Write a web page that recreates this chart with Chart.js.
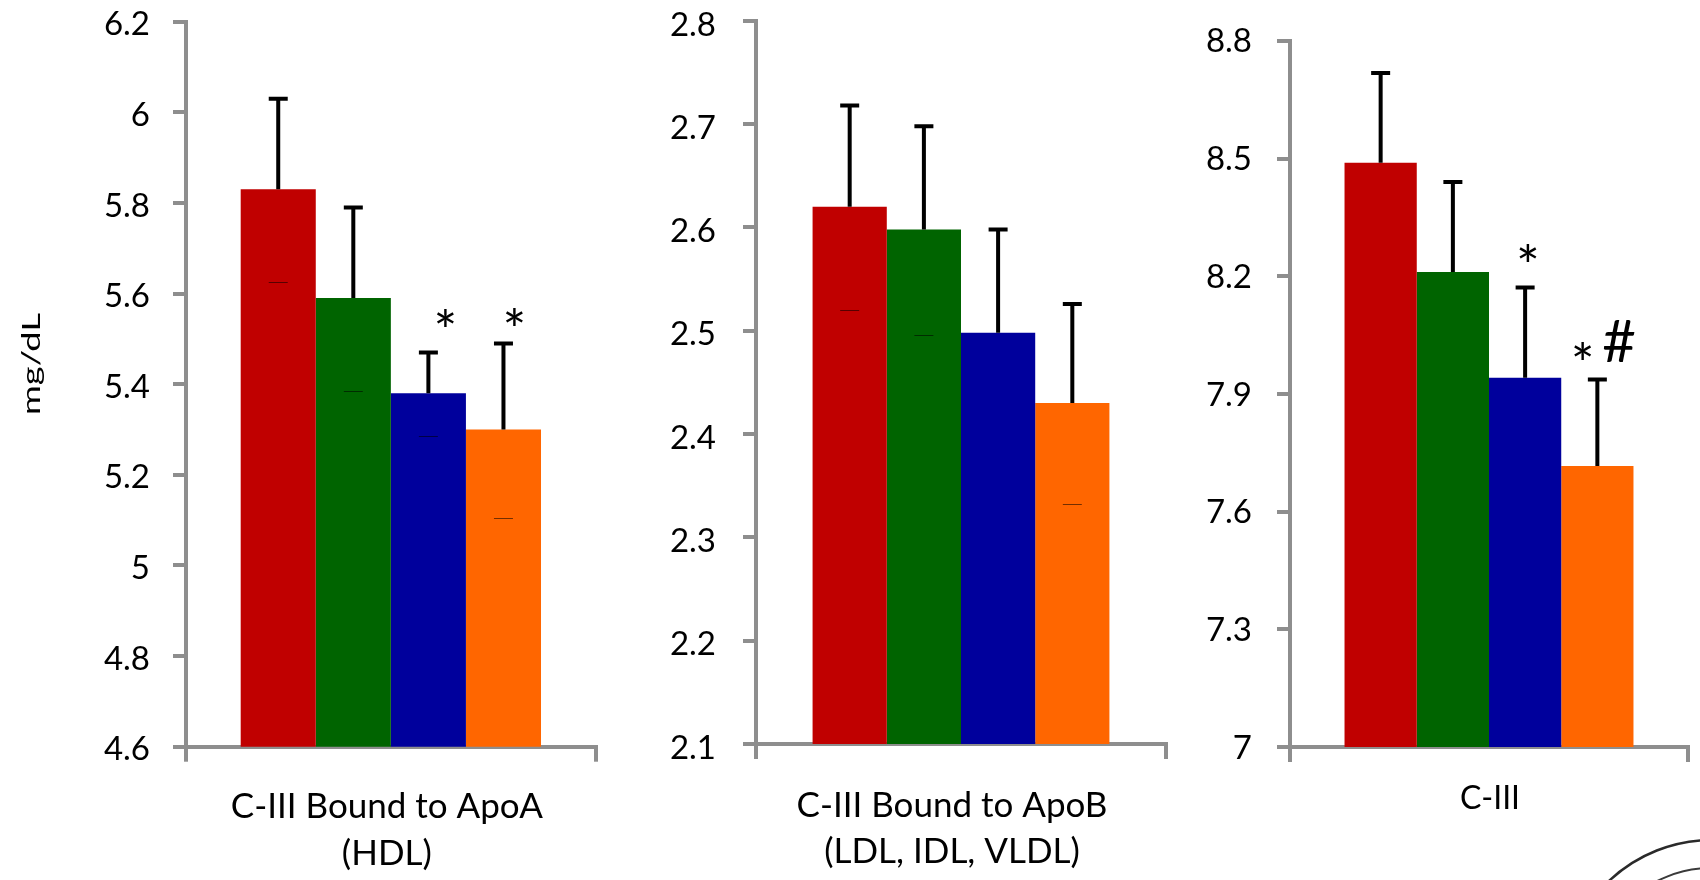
<!DOCTYPE html>
<html><head><meta charset="utf-8">
<script src="https://cdn.jsdelivr.net/npm/chart.js@4.4.1/dist/chart.umd.min.js"></script>
<style>
html,body{margin:0;padding:0;background:#fff;}
#wrap{position:relative;width:1700px;height:880px;overflow:hidden;background:#fff;}
canvas{position:absolute;left:0;top:0;}
</style></head><body>
<div id="wrap">
<canvas id="c1" width="1700" height="880"></canvas>
<canvas id="c2" width="1700" height="880"></canvas>
<canvas id="c3" width="1700" height="880"></canvas>
</div>
<script>
// ---------------- data ----------------
const seriesNames = ['Group 1', 'Group 2', 'Group 3', 'Group 4'];
const seriesColors = ['#C00000', '#006400', '#00009C', '#FF6600'];

const hdlCategory = ['C-III Bound to ApoA', '(HDL)'];
const hdlMeans = [5.83, 5.59, 5.38, 5.30];
const hdlErrors = [0.20, 0.20, 0.09, 0.19];
const hdlMarks = ['', '', '*', '*'];
const hdlTicks = ['4.6', '4.8', '5', '5.2', '5.4', '5.6', '5.8', '6', '6.2'];

const apoBCategory = ['C-III Bound to ApoB', '(LDL, IDL, VLDL)'];
const apoBMeans = [2.62, 2.598, 2.498, 2.43];
const apoBErrors = [0.098, 0.10, 0.10, 0.096];
const apoBMarks = ['', '', '', ''];
const apoBTicks = ['2.1', '2.2', '2.3', '2.4', '2.5', '2.6', '2.7', '2.8'];

const totalCategory = ['C-III'];
const totalMeans = [8.489, 8.211, 7.941, 7.716];
const totalErrors = [0.229, 0.229, 0.23, 0.221];
const totalMarks = ['', '', '*', '* #'];
const totalTicks = ['7', '7.3', '7.6', '7.9', '8.2', '8.5', '8.8'];

const yTitle = 'mg/dL';

// ---------------- styles / layout ----------------
const FONT = 'Lato, "Open Sans", sans-serif';
const AXIS_GRAY = '#8E8E8E';
const W = 1700, H = 880;

const decorPlugin = {
  id: 'decor',
  afterDatasetsDraw(chart, args, opts) {
    const ctx = chart.ctx;
    const y = chart.scales.y;
    ctx.save();
    opts.means.forEach((m, i) => {
      const bar = chart.getDatasetMeta(i).data[0];
      const x = bar.x;
      const yTop = y.getPixelForValue(m + opts.errors[i]);
      const yLow = y.getPixelForValue(m - opts.errors[i]);
      ctx.strokeStyle = '#000';
      ctx.lineWidth = 4;
      ctx.lineCap = 'butt';
      ctx.beginPath();
      ctx.moveTo(x, bar.y);
      ctx.lineTo(x, yTop);
      ctx.moveTo(x - 9.5, yTop);
      ctx.lineTo(x + 9.5, yTop);
      ctx.stroke();
      // faint lower cap showing through the bar
      if (opts.lowerCaps[i]) {
        ctx.strokeStyle = 'rgba(0,0,0,0.55)';
        ctx.lineWidth = 1;
        ctx.beginPath();
        ctx.moveTo(x - 9.5, Math.round(yLow) + 2.5);
        ctx.lineTo(x + 9.5, Math.round(yLow) + 2.5);
        ctx.stroke();
      }
      // significance marks
      const tokens = (opts.marks[i] || '').split(' ').filter(t => t);
      tokens.forEach((t, k) => {
        const off = (opts.markOffsets[i] || [])[k] || [0, -30];
        const size = opts.markSizes[t] || 40;
        ctx.font = size + 'px ' + FONT;
        ctx.fillStyle = '#000';
        ctx.textAlign = 'left';
        ctx.textBaseline = 'alphabetic';
        const mt = ctx.measureText(t);
        const cx = x + off[0], cy = yTop + off[1];
        const x0 = cx - (mt.actualBoundingBoxRight - mt.actualBoundingBoxLeft) / 2;
        const y0 = cy + (mt.actualBoundingBoxAscent - mt.actualBoundingBoxDescent) / 2;
        ctx.fillText(t, x0, y0);
      });
    });
    ctx.restore();
  },
  afterDraw(chart, args, opts) {
    const ctx = chart.ctx;
    const xs = chart.scales.x;
    const cx = xs.getPixelForTick(0) + opts.labelDx;
    ctx.save();
    ctx.fillStyle = '#000';
    ctx.font = opts.labelSize + 'px ' + FONT;
    ctx.textAlign = 'center';
    ctx.textBaseline = 'alphabetic';
    opts.category.forEach((line, k) => {
      ctx.fillText(line, cx, chart.chartArea.bottom + opts.labelDy + k * opts.lineGap);
    });
    if (opts.yTitle) {
      ctx.translate(40, 364);
      ctx.rotate(-Math.PI / 2);
      ctx.font = '25px ' + FONT;
      const w = ctx.measureText(opts.yTitle).width;
      ctx.scale(102 / w, 1);
      ctx.fillText(opts.yTitle, 0, 0);
    }
    ctx.restore();
    if (opts.logo) {
      ctx.save();
      ctx.strokeStyle = '#2a2a2a';
      ctx.lineWidth = 2.5;
      ctx.beginPath();
      ctx.arc(1712, 990, 150, Math.PI, 1.6 * Math.PI);
      ctx.stroke();
      ctx.strokeStyle = '#3a3a3a';
      ctx.lineWidth = 2;
      ctx.beginPath();
      ctx.arc(1712, 990, 122, Math.PI, 1.6 * Math.PI);
      ctx.stroke();
      ctx.restore();
    }
  }
};

function makePanel(id, p) {
  const tickValues = p.ticks.map(Number);
  return new Chart(document.getElementById(id), {
    type: 'bar',
    data: {
      labels: [p.category.join(' ')],
      datasets: seriesNames.map((n, i) => ({
        label: n,
        data: [p.means[i]],
        backgroundColor: seriesColors[i],
        borderWidth: 0,
        barPercentage: 1,
        categoryPercentage: p.catPct
      }))
    },
    options: {
      responsive: false,
      animation: false,
      devicePixelRatio: 1,
      layout: { padding: { left: 0, top: p.top, right: W - p.xEnd, bottom: 0 } },
      plugins: {
        legend: { display: false },
        tooltip: { enabled: false },
        decor: {
          means: p.means, errors: p.errors, marks: p.marks,
          markOffsets: p.markOffsets, markSizes: { '*': 56, '#': 58 },
          lowerCaps: p.lowerCaps,
          category: p.category, labelDx: p.labelDx, labelDy: p.labelDy,
          lineGap: p.lineGap, labelSize: p.labelSize,
          yTitle: p.yTitle, logo: p.logo
        }
      },
      scales: {
        x: {
          z: 1,
          offset: true,
          ticks: { display: false },
          grid: { display: true, offset: true, drawOnChartArea: false, drawTicks: true,
                  tickLength: 15, color: AXIS_GRAY, lineWidth: 4, tickWidth: 4 },
          border: { display: true, color: AXIS_GRAY, width: 4 },
          afterFit: s => { s.height = H - p.bottom; s.paddingLeft = 0; s.paddingRight = 0; }
        },
        y: {
          min: tickValues[0],
          max: tickValues[tickValues.length - 1],
          afterBuildTicks: s => { s.ticks = tickValues.map(v => ({ value: v })); },
          ticks: {
            callback: (v, i) => p.ticks[i],
            color: '#000',
            font: { family: FONT, size: 33, lineHeight: 1 },
            padding: p.tickPad,
            labelOffset: p.labelOffset
          },
          grid: { drawOnChartArea: false, drawTicks: true, tickLength: 13,
                  color: AXIS_GRAY, lineWidth: 4, tickWidth: 4 },
          border: { display: true, color: AXIS_GRAY, width: 4 },
          afterFit: s => { s.width = p.axisX; s.paddingTop = 0; s.paddingBottom = 0; }
        }
      }
    },
    plugins: [decorPlugin]
  });
}

function build() {
  makePanel('c1', {
    category: hdlCategory, means: hdlMeans, errors: hdlErrors, marks: hdlMarks, ticks: hdlTicks,
    axisX: 186, top: 21.7, bottom: 746.7, xEnd: 595.7, catPct: 0.733,
    tickPad: 23, labelOffset: 3,
    labelDx: -4, labelDy: 71.3, lineGap: 46.5, labelSize: 35,
    markOffsets: { 2: [[17, -35]], 3: [[11, -27]] },
    lowerCaps: [true, true, true, true],
    yTitle: yTitle
  });
  makePanel('c2', {
    category: apoBCategory, means: apoBMeans, errors: apoBErrors, marks: apoBMarks, ticks: apoBTicks,
    axisX: 756, top: 20.9, bottom: 744, xEnd: 1166, catPct: 0.724,
    tickPad: 27, labelOffset: 4,
    labelDx: -9, labelDy: 73.3, lineGap: 45.5, labelSize: 35,
    markOffsets: {},
    lowerCaps: [true, true, false, true]
  });
  makePanel('c3', {
    category: totalCategory, means: totalMeans, errors: totalErrors, marks: totalMarks, ticks: totalTicks,
    axisX: 1290, top: 40.8, bottom: 747, xEnd: 1688, catPct: 0.726,
    tickPad: 25, labelOffset: 1,
    labelDx: 1, labelDy: 62, lineGap: 0, labelSize: 32,
    markOffsets: { 2: [[3, -35]], 3: [[-14.5, -29], [22, -38]] },
    lowerCaps: [false, false, false, false],
    logo: true
  });
}

const fontReady = (document.fonts && document.fonts.load)
  ? Promise.race([document.fonts.load('33px Lato'), new Promise(r => setTimeout(r, 800))])
  : Promise.resolve();
fontReady.then(build, build);
</script>
</body></html>
